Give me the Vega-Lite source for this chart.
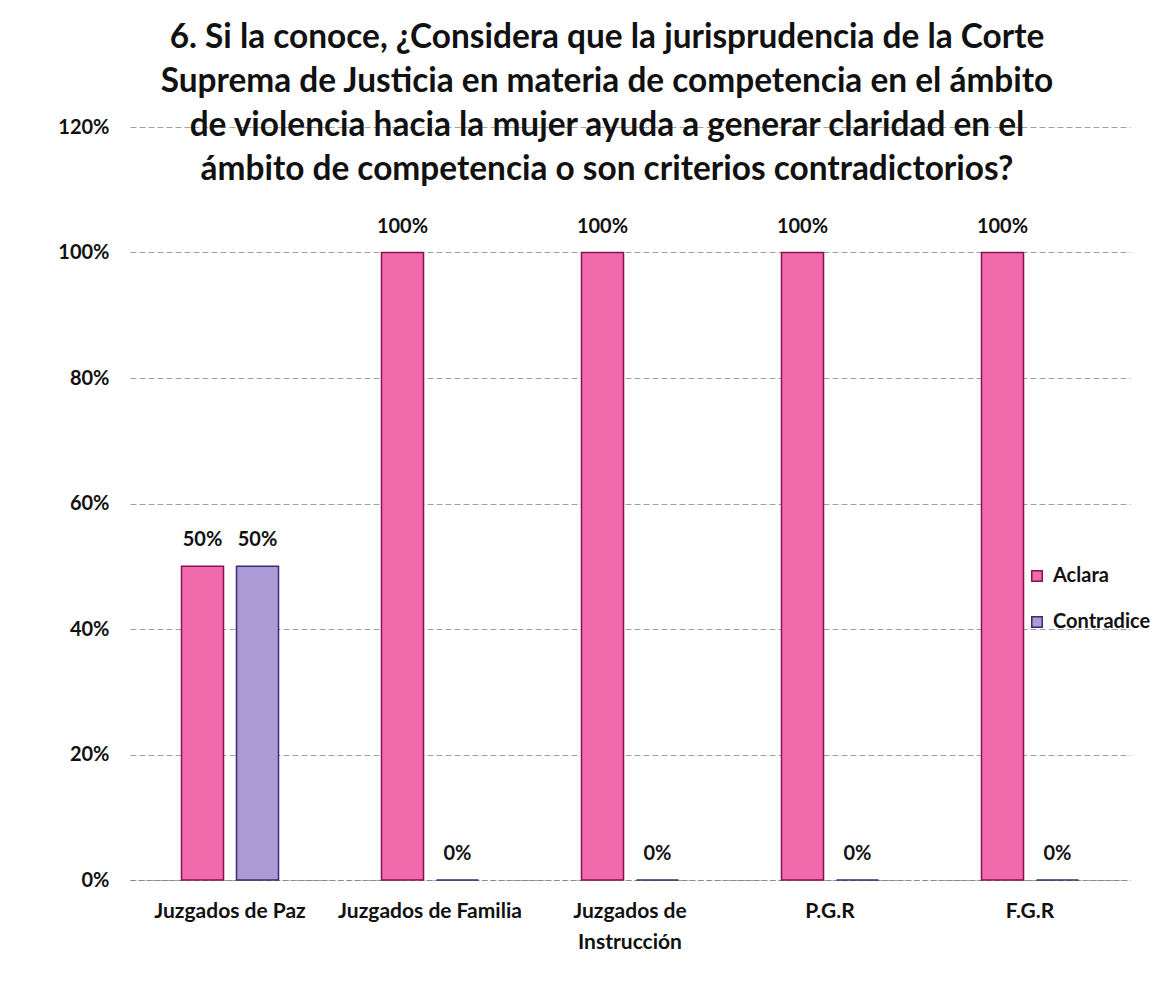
{
  "$schema": "https://vega.github.io/schema/vega-lite/v6.json",
  "width": 1000,
  "height": 753,
  "autosize": {"type": "none"},
  "padding": {"left": 130, "top": 127, "right": 37, "bottom": 110},
  "background": "#ffffff",
  "view": {"stroke": null},
  "title": {
    "text": ["6. Si la conoce, ¿Considera que la jurisprudencia de la Corte", "Suprema de Justicia en materia de competencia en el ámbito", "de violencia hacia la mujer ayuda a generar claridad en el", "ámbito de competencia o son criterios contradictorios?"],
    "font": "Lato",
    "fontSize": 33.4,
    "fontWeight": "bold",
    "lineHeight": 44,
    "color": "#111111",
    "anchor": "middle",
    "dx": -23,
    "offset": -70
  },
  "data": {
    "values": [
      {"grupo": "Juzgados de Paz", "serie": "Aclara", "valor": 0.5},
      {"grupo": "Juzgados de Paz", "serie": "Contradice", "valor": 0.5},
      {"grupo": "Juzgados de Familia", "serie": "Aclara", "valor": 1.0},
      {"grupo": "Juzgados de Familia", "serie": "Contradice", "valor": 0.0},
      {"grupo": "Juzgados de Instrucción", "serie": "Aclara", "valor": 1.0},
      {"grupo": "Juzgados de Instrucción", "serie": "Contradice", "valor": 0.0},
      {"grupo": "P.G.R", "serie": "Aclara", "valor": 1.0},
      {"grupo": "P.G.R", "serie": "Contradice", "valor": 0.0},
      {"grupo": "F.G.R", "serie": "Aclara", "valor": 1.0},
      {"grupo": "F.G.R", "serie": "Contradice", "valor": 0.0}
    ]
  },
  "encoding": {
    "x": {
      "field": "grupo", "type": "nominal", "sort": null, "title": null,
      "scale": {"paddingInner": 0, "paddingOuter": 0},
      "axis": {
        "labelAngle": 0, "ticks": false, "labelPadding": 20, "labelLimit": 400,
        "labelFont": "Lato", "labelFontSize": 21, "labelFontWeight": "bold", "labelColor": "#111111",
        "labelLineHeight": 31,
        "labelExpr": "datum.label == 'Juzgados de Instrucción' ? ['Juzgados de', 'Instrucción'] : datum.label",
        "domainColor": "#888888", "domainDash": [5, 3], "grid": false
      }
    },
    "xOffset": {"field": "serie", "type": "nominal", "scale": {"paddingInner": 0.236, "paddingOuter": 0.936}},
    "y": {
      "field": "valor", "type": "quantitative", "title": null,
      "scale": {"domain": [0, 1.2], "nice": false},
      "axis": {
        "values": [0, 0.2, 0.4, 0.6, 0.8, 1.0, 1.2], "format": ".0%",
        "domain": false, "ticks": false, "labelPadding": 21,
        "labelFont": "Lato", "labelFontSize": 20, "labelFontWeight": "bold", "labelColor": "#111111",
        "gridColor": "#8a8a8a", "gridDash": [6, 3], "gridWidth": 1, "gridOpacity": 0.8
      }
    },
    "color": {
      "field": "serie", "type": "nominal", "title": null,
      "scale": {"domain": ["Aclara", "Contradice"], "range": ["#f06aac", "#ab9ad6"]},
      "legend": {
        "orient": "none", "legendX": 897, "legendY": 439,
        "labelFont": "Lato", "labelFontSize": 20, "labelFontWeight": "bold", "labelColor": "#111111",
        "symbolType": "square", "symbolSize": 110, "symbolStrokeWidth": 1.5,
        "rowPadding": 26, "labelOffset": 6, "labelLimit": 300
      }
    }
  },
  "layer": [
    {
      "mark": {"type": "bar", "strokeWidth": 1.5},
      "encoding": {
        "stroke": {
          "field": "serie", "type": "nominal", "legend": null,
          "scale": {"domain": ["Aclara", "Contradice"], "range": ["#8a1050", "#3c2a70"]}
        }
      }
    },
    {
      "mark": {"type": "text", "baseline": "bottom", "dy": -16, "font": "Lato", "fontSize": 20, "fontWeight": "bold", "color": "#111111"},
      "encoding": {
        "text": {"field": "valor", "type": "quantitative", "format": ".0%"},
        "color": {"value": "#111111"}
      }
    }
  ]
}
